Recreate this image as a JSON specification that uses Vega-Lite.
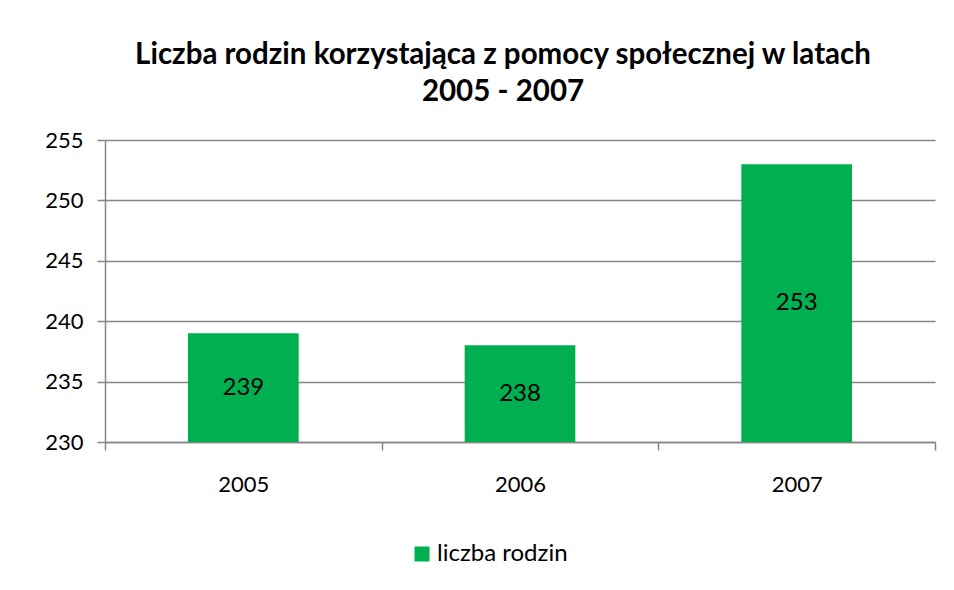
{
  "$schema": "https://vega.github.io/schema/vega-lite/v6.json",
  "autosize": "none",
  "width": 830,
  "height": 302,
  "padding": {"left": 105, "top": 140, "right": 19, "bottom": 148},
  "background": "white",
  "title": {
    "text": ["Liczba rodzin korzystająca z pomocy społecznej w latach", "2005 - 2007"],
    "font": "Lato",
    "fontSize": 29.5,
    "fontWeight": "bold",
    "color": "#000000",
    "lineHeight": 37,
    "anchor": "middle",
    "frame": "group",
    "dx": -17,
    "offset": 22
  },
  "data": {
    "values": [
      {"year": "2005", "value": 239, "series": "liczba rodzin"},
      {"year": "2006", "value": 238, "series": "liczba rodzin"},
      {"year": "2007", "value": 253, "series": "liczba rodzin"}
    ]
  },
  "encoding": {
    "x": {
      "field": "year",
      "type": "nominal",
      "scale": {"paddingInner": 0, "paddingOuter": 0},
      "axis": {
        "title": null,
        "labelAngle": 0,
        "labelFont": "Lato",
        "labelFontSize": 22,
        "labelColor": "#000000",
        "labelPadding": 24,
        "domainColor": "#868686",
        "domainWidth": 1.5,
        "tickColor": "#868686",
        "tickWidth": 1.5,
        "tickSize": 8,
        "tickBand": "extent",
        "grid": false
      }
    }
  },
  "layer": [
    {
      "mark": {"type": "bar", "clip": true, "width": {"band": 0.4}},
      "encoding": {
        "y": {
          "field": "value",
          "type": "quantitative",
          "scale": {"domain": [230, 255], "nice": false, "zero": false},
          "axis": {
            "title": null,
            "values": [230, 235, 240, 245, 250, 255],
            "labelFont": "Lato",
            "labelFontSize": 22,
            "labelColor": "#000000",
            "labelPadding": 14,
            "domainColor": "#868686",
            "domainWidth": 1.5,
            "tickColor": "#868686",
            "tickWidth": 1.5,
            "tickSize": 8,
            "grid": true,
            "gridColor": "#868686",
            "gridWidth": 1.5
          }
        },
        "y2": {"datum": 230},
        "color": {
          "field": "series",
          "type": "nominal",
          "scale": {"range": ["#00B050"]},
          "legend": {
            "title": null,
            "orient": "none",
            "legendX": 305,
            "legendY": 402,
            "padding": 0,
            "symbolType": "square",
            "symbolSize": 225,
            "symbolStrokeWidth": 0,
            "symbolOpacity": 1,
            "labelFont": "Lato",
            "labelFontSize": 24,
            "labelColor": "#000000",
            "labelOffset": 3
          }
        }
      }
    },
    {
      "transform": [{"calculate": "(datum.value + 230) / 2", "as": "mid"}],
      "mark": {"type": "text", "font": "Lato", "fontSize": 24, "color": "#000000", "baseline": "middle", "align": "center"},
      "encoding": {
        "y": {"field": "mid", "type": "quantitative"},
        "text": {"field": "value", "type": "quantitative"}
      }
    }
  ],
  "config": {
    "view": {"stroke": null}
  }
}
